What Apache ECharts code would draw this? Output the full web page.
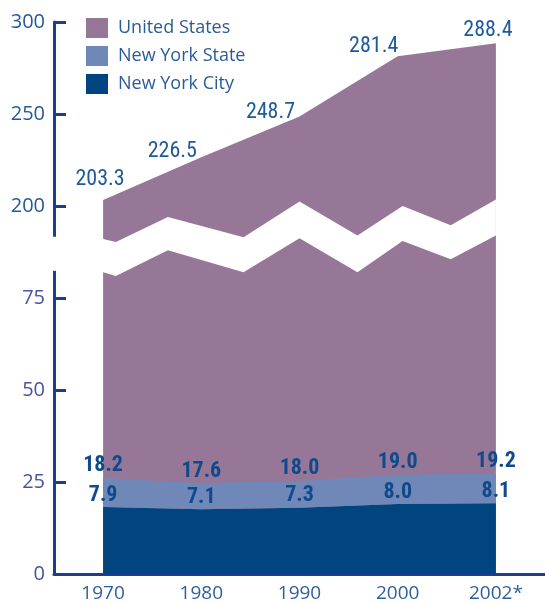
<!DOCTYPE html>
<html>
<head>
<meta charset="utf-8">
<script src="https://cdn.jsdelivr.net/npm/echarts@6/dist/echarts.min.js"></script>
<style>
html,body{margin:0;padding:0;background:#fff;}
#chart{width:545px;height:603px;}
</style>
</head>
<body>
<div id="chart"></div>
<script>
// ---- data ----
const years = ['1970', '1980', '1990', '2000', '2002*'];
const usPop = [203.3, 226.5, 248.7, 281.4, 288.4];
const nysPop = [18.2, 17.6, 18.0, 19.0, 19.2];
const nycPop = [7.9, 7.1, 7.3, 8.0, 8.1];
const yTickLabels = ['0', '25', '50', '75', '200', '250', '300'];

// decorative zig-zag axis break (in axis units of the broken scale)
const breakX = [-0.6, 0, 0.13, 0.66, 1.43, 2.0, 2.59, 3.05, 3.54, 4.0];
const breakTop = [3.67, 3.64, 3.61, 3.88, 3.66, 4.05, 3.68, 4.00, 3.79, 4.07];
const breakBottom = [3.30, 3.28, 3.24, 3.52, 3.28, 3.65, 3.28, 3.62, 3.42, 3.68];

// label offsets for the US values (layout only)
const usLabelOffsets = [[-3, -20], [-29, -6], [-29, -4], [-24, -10], [-8, -13]];

// broken axis: lower part 25 per tick (ticks 0..3), upper part 50 per tick from 200 (ticks 4..6)
const toAxisLow = v => v / 25;
const toAxisUp = v => 4 + (v - 200) / 50;

const C_US = '#967797';
const C_NYS = '#6f88b8';
const C_NYC = '#00457f';
const AXIS = '#1d3e8e';
const NARROW = "'Roboto Condensed', 'Liberation Sans Narrow', 'DejaVu Sans Condensed', 'Roboto', sans-serif";
const SANS = "'Open Sans', 'Noto Sans', sans-serif";

const chart = echarts.init(document.getElementById('chart'));
chart.setOption({
  animation: false,
  backgroundColor: '#fff',
  grid: { left: 54, right: 0, top: 22, bottom: 27, containLabel: false },
  legend: {
    orient: 'vertical', left: 86, top: 18, padding: 0,
    itemWidth: 22, itemHeight: 20, itemGap: 8,
    icon: 'rect', selectedMode: false,
    textStyle: { fontFamily: SANS, fontSize: 18, color: '#2a5b98', padding: [0, 0, 0, 5] },
    data: [
      { name: 'United States', itemStyle: { color: C_US } },
      { name: 'New York State', itemStyle: { color: C_NYS } },
      { name: 'New York City', itemStyle: { color: C_NYC } }
    ]
  },
  xAxis: [
    {
      type: 'category', data: years, boundaryGap: true,
      axisLine: { show: true, onZero: false, lineStyle: { color: AXIS, width: 3 } },
      axisTick: { show: false },
      axisLabel: { fontFamily: SANS, fontSize: 19, color: '#2d5f9e', margin: 10 },
      splitLine: { show: false }
    },
    { type: 'value', min: -0.5, max: 4.5, show: false, axisLine: { onZero: false } }
  ],
  yAxis: {
    type: 'value', min: 0, max: 6, interval: 1,
    axisLine: { show: true, onZero: false, lineStyle: { color: AXIS, width: 3 } },
    axisTick: { show: true, inside: true, length: 12, lineStyle: { color: AXIS, width: 3 } },
    splitLine: { show: false },
    axisLabel: {
      margin: 9,
      formatter: v => {
        const i = Math.round(v);
        return (i >= 4 ? '{u|' : '{l|') + yTickLabels[i] + '}';
      },
      rich: {
        u: { fontFamily: SANS, fontSize: 20, color: '#245a96' },
        l: { fontFamily: SANS, fontSize: 20, color: '#4a52a4' }
      }
    }
  },
  series: [
    {
      name: 'United States', type: 'line', z: 1,
      symbol: 'circle', symbolSize: 0, showSymbol: true,
      lineStyle: { width: 0 }, itemStyle: { color: C_US },
      areaStyle: { color: C_US, opacity: 1 },
      emphasis: { disabled: true },
      label: {
        show: true, position: 'inside',
        fontFamily: NARROW, fontSize: 22, color: '#1f5a98',
        formatter: p => usPop[p.dataIndex].toFixed(1)
      },
      data: usPop.map((v, i) => ({ value: toAxisUp(v), label: { offset: usLabelOffsets[i] } }))
    },
    {
      name: 'axisBreak', type: 'custom', xAxisIndex: 1, yAxisIndex: 0, z: 2, silent: true,
      data: breakX.map((x, i) => [x, breakTop[i], breakBottom[i]]),
      encode: { x: 0, y: 1 },
      renderItem: (params, api) => {
        if (params.dataIndex !== 0) return;
        const pts = [];
        for (let i = 0; i < breakX.length; i++) pts.push(api.coord([breakX[i], breakTop[i]]));
        for (let i = breakX.length - 1; i >= 0; i--) pts.push(api.coord([breakX[i], breakBottom[i]]));
        return { type: 'polygon', shape: { points: pts }, style: { fill: '#ffffff' } };
      }
    },
    {
      // dark layer: height follows the first (state) figure as in the original drawing
      name: 'New York City', type: 'line', stack: 'ny', z: 3,
      symbol: 'circle', symbolSize: 0, showSymbol: true,
      lineStyle: { width: 0 }, itemStyle: { color: C_NYC },
      areaStyle: { color: C_NYC, opacity: 1 },
      emphasis: { disabled: true },
      label: {
        show: true, position: 'top', distance: 1,
        fontFamily: NARROW, fontWeight: 'bold', fontSize: 22, color: '#0f4a8c',
        formatter: p => nycPop[p.dataIndex].toFixed(1)
      },
      data: nysPop.map(toAxisLow)
    },
    {
      name: 'New York State', type: 'line', stack: 'ny', z: 3,
      symbol: 'circle', symbolSize: 0, showSymbol: true,
      lineStyle: { width: 0 }, itemStyle: { color: C_NYS },
      areaStyle: { color: C_NYS, opacity: 1 },
      emphasis: { disabled: true },
      label: {
        show: true, position: 'top', distance: 1,
        fontFamily: NARROW, fontWeight: 'bold', fontSize: 22, color: '#0f4a8c',
        formatter: p => nysPop[p.dataIndex].toFixed(1)
      },
      data: nycPop.map(toAxisLow)
    }
  ]
});
</script>
</body>
</html>
